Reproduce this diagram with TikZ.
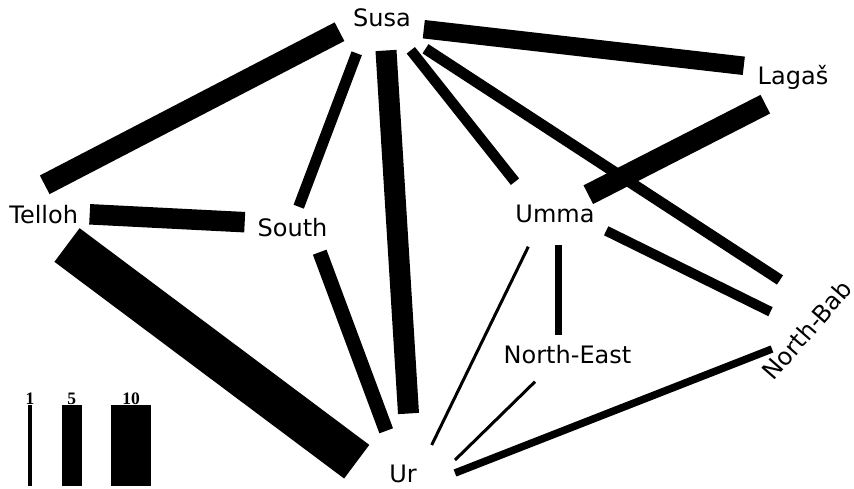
\documentclass[tikz,border=0pt]{standalone}
\usepackage{fontspec}
\setmainfont{DejaVu Sans}
\newfontfamily\legendfont{Liberation Serif}
\begin{document}
\begin{tikzpicture}[x=1pt,y=-1pt,
  place/.style={anchor=base, inner sep=0pt, font=\fontsize{24}{29}\selectfont},
  link/.style={line width=#1, black, line cap=butt},
  legbar/.style={fill=black},
  leglabel/.style={anchor=base, inner sep=0pt, font=\legendfont\bfseries\fontsize{17.5}{19}\selectfont}]
\useasboundingbox (0,0) rectangle (854,489);
% place labels
\node[place] (susa) at (382,26.7) {Susa};
\node[place] (lagas) at (793,85) {Lagaš};
\node[place] (telloh) at (43.7,223.3) {Telloh};
\node[place] (south) at (292.5,236.7) {South};
\node[place] (umma) at (555,222.7) {Umma};
\node[place] (ne) at (567.5,363.3) {North-East};
\node[place] (ur) at (403,482.7) {Ur};
\node[place, anchor=center, rotate=49] (nb) at (807,330) {North-Bab};
% connector end points
\coordinate (s-t) at (339.5,31.7);   \coordinate (t-s) at (44.7,184.8);
\coordinate (s-so) at (356.7,53.3);  \coordinate (so-s) at (298.7,206.7);
\coordinate (s-ur) at (386,50.5);    \coordinate (ur-s) at (408.5,413.5);
\coordinate (s-um) at (410.8,50.3);  \coordinate (um-s) at (515,181.7);
\coordinate (s-nb) at (425.5,48.8);  \coordinate (nb-s) at (780,280);
\coordinate (s-l) at (423.8,29.2);   \coordinate (l-s) at (743.8,65.8);
\coordinate (l-um) at (765.3,104.2); \coordinate (um-l) at (588.3,194.7);
\coordinate (t-so) at (89.7,214.3);  \coordinate (so-t) at (244.7,222.2);
\coordinate (t-ur) at (67,245);      \coordinate (ur-t) at (356.7,461.7);
\coordinate (so-ur) at (319.7,252.2);\coordinate (ur-so) at (386.2,430.8);
\coordinate (um-nb) at (606.2,230.8);\coordinate (nb-um) at (770.5,311.7);
\coordinate (um-ne) at (558.3,245);  \coordinate (ne-um) at (558.3,335);
\coordinate (um-ur) at (528.3,246.7);\coordinate (ur-um) at (431.7,445);
\coordinate (ne-ur) at (535,381.7);  \coordinate (ur-ne) at (455,460);
\coordinate (nb-ur) at (772,349);    \coordinate (ur-nb) at (455,473);
% connectors
\draw[link=21] (s-t) -- (t-s);
\draw[link=11] (s-so) -- (so-s);
\draw[link=21] (s-ur) -- (ur-s);
\draw[link=10.5] (s-um) -- (um-s);
\draw[link=11] (s-nb) -- (nb-s);
\draw[link=18.5] (s-l) -- (l-s);
\draw[link=21] (l-um) -- (um-l);
\draw[link=20.5] (t-so) -- (so-t);
\draw[link=42] (t-ur) -- (ur-t);
\draw[link=14.5] (so-ur) -- (ur-so);
\draw[link=10] (um-nb) -- (nb-um);
\draw[link=6.5] (um-ne) -- (ne-um);
\draw[link=3] (um-ur) -- (ur-um);
\draw[link=3] (ne-ur) -- (ur-ne);
\draw[link=7.5] (nb-ur) -- (ur-nb);
% legend
\fill[legbar] (28,405) rectangle (32,486);
\fill[legbar] (61.7,405) rectangle (81.7,486);
\fill[legbar] (111,405) rectangle (151,486);
\node[leglabel] (l1) at (30,404) {1};
\node[leglabel] (l5) at (71.7,404) {5};
\node[leglabel] (l10) at (131,404) {10};
\end{tikzpicture}
\end{document}
